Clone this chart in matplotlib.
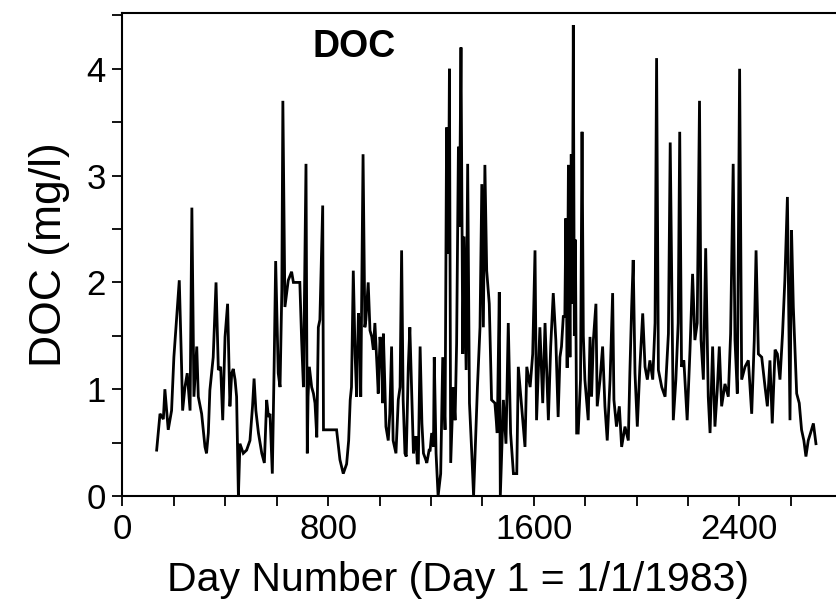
import matplotlib.pyplot as plt
from matplotlib.ticker import MultipleLocator

# day number and DOC (mg/l)
days = [133, 146, 159, 165, 178, 191, 200, 221, 230, 234, 243, 252, 263, 270, 278,
        289, 295, 308, 321, 327, 334, 340, 353, 364, 373, 382, 390, 399, 409, 418,
        425, 431, 438, 444, 451, 457, 470, 483, 496, 506, 512, 519, 529, 542, 552,
        561, 568, 574, 583, 590, 596, 606, 613, 620, 624, 632, 645, 658, 665, 690,
        697, 704, 714, 719, 722, 727, 736, 743, 749, 756, 762, 768, 779, 782, 833,
        846, 859, 872, 880, 886, 891, 898, 905, 911, 918, 924, 927, 936, 943, 947,
        956, 963, 970, 976, 982, 991, 995, 1002, 1008, 1012, 1015, 1021, 1025, 1034, 1040,
        1047, 1053, 1064, 1073, 1080, 1086, 1092, 1099, 1104, 1112, 1118, 1125, 1132, 1138, 1142,
        1147, 1151, 1158, 1165, 1171, 1180, 1184, 1193, 1197, 1203, 1210, 1213, 1220, 1228, 1238,
        1246, 1255, 1261, 1268, 1272, 1277, 1287, 1294, 1300, 1307, 1311, 1317, 1324, 1329, 1337,
        1343, 1350, 1359, 1366, 1381, 1391, 1398, 1404, 1410, 1417, 1427, 1436, 1449, 1458, 1466,
        1470, 1482, 1492, 1501, 1510, 1521, 1534, 1540, 1553, 1566, 1573, 1586, 1596, 1605, 1611,
        1624, 1635, 1644, 1657, 1666, 1676, 1686, 1695, 1702, 1708, 1715, 1721, 1725, 1730, 1735,
        1741, 1746, 1750, 1754, 1758, 1762, 1767, 1773, 1782, 1788, 1793, 1799, 1812, 1819, 1825,
        1832, 1842, 1847, 1858, 1868, 1877, 1886, 1897, 1907, 1912, 1922, 1933, 1942, 1955, 1968,
        1974, 1981, 1987, 1994, 2003, 2013, 2024, 2033, 2042, 2052, 2063, 2072, 2078, 2085, 2098,
        2111, 2124, 2131, 2143, 2153, 2162, 2168, 2175, 2184, 2197, 2208, 2218, 2227, 2236, 2245,
        2251, 2260, 2269, 2279, 2286, 2296, 2305, 2314, 2322, 2331, 2344, 2357, 2366, 2376, 2383,
        2392, 2401, 2409, 2422, 2435, 2448, 2458, 2465, 2474, 2487, 2500, 2509, 2519, 2528, 2539,
        2548, 2558, 2568, 2577, 2587, 2597, 2603, 2610, 2623, 2633, 2642, 2651, 2659, 2668, 2677,
        2688, 2698]

doc = [0.43, 0.77, 0.72, 1.00, 0.62, 0.80, 1.30, 2.02, 1.21, 0.80, 1.02, 1.15, 0.80, 2.70, 0.93,
       1.40, 0.93, 0.77, 0.46, 0.40, 0.59, 0.99, 1.30, 2.00, 1.18, 1.21, 0.71, 1.49, 1.80, 0.84,
       1.15, 1.19, 1.09, 0.93, 0.00, 0.49, 0.40, 0.43, 0.52, 0.84, 1.10, 0.80, 0.59, 0.40, 0.31,
       0.90, 0.74, 0.77, 0.21, 1.21, 2.20, 1.15, 1.02, 1.93, 3.70, 1.77, 2.02, 2.10, 2.00, 2.00,
       1.46, 1.02, 3.11, 0.40, 0.93, 1.21, 1.02, 0.96, 0.87, 0.55, 1.58, 1.65, 2.72, 0.62, 0.62,
       0.34, 0.21, 0.30, 0.52, 0.90, 1.02, 2.11, 1.33, 0.93, 1.71, 1.52, 0.93, 3.20, 1.58, 1.65,
       2.00, 1.55, 1.49, 1.37, 1.62, 1.18, 0.96, 1.49, 1.33, 0.87, 1.52, 1.02, 0.65, 0.52, 0.77,
       1.40, 0.52, 0.40, 0.90, 1.02, 2.30, 0.90, 0.40, 0.37, 1.21, 1.58, 0.99, 0.40, 0.52, 0.56,
       0.31, 0.31, 1.40, 0.68, 0.40, 0.34, 0.31, 0.43, 0.43, 0.59, 0.46, 1.30, 0.40, 0.00, 0.21,
       1.30, 0.62, 3.45, 2.27, 4.00, 0.31, 1.02, 0.71, 1.43, 3.27, 2.52, 4.20, 1.33, 2.43, 1.18,
       3.11, 0.87, 0.40, 0.00, 1.02, 1.58, 2.92, 1.58, 3.10, 2.11, 1.80, 0.90, 0.87, 0.59, 1.91,
       0.00, 0.90, 0.49, 1.62, 0.59, 0.21, 0.21, 1.21, 0.84, 0.46, 1.21, 1.02, 1.33, 2.30, 0.71,
       1.58, 0.87, 1.62, 0.71, 1.40, 1.90, 1.46, 0.74, 1.30, 1.40, 1.68, 1.68, 2.60, 1.20, 3.10,
       1.30, 3.20, 1.80, 4.41, 1.50, 2.40, 0.59, 0.59, 1.09, 3.41, 1.50, 1.09, 0.71, 1.49, 0.93,
       1.46, 1.80, 0.84, 1.09, 1.40, 0.84, 0.52, 1.09, 1.90, 0.90, 0.65, 0.84, 0.46, 0.65, 0.52,
       1.15, 1.77, 2.21, 1.15, 0.65, 1.21, 1.71, 1.21, 1.09, 1.27, 1.09, 1.62, 4.10, 1.18, 1.02,
       0.93, 1.52, 3.31, 0.71, 1.09, 1.62, 3.41, 1.21, 1.27, 0.71, 1.37, 2.08, 1.46, 1.62, 3.70,
       1.46, 1.09, 2.32, 0.93, 0.59, 1.40, 0.65, 0.99, 1.40, 0.84, 1.05, 0.93, 1.52, 3.11, 1.46,
       0.96, 4.00, 1.09, 1.21, 1.27, 0.77, 1.46, 2.30, 1.33, 1.30, 1.02, 0.84, 1.27, 0.68, 1.37,
       1.33, 1.09, 1.52, 2.02, 2.80, 0.71, 2.49, 1.77, 0.96, 0.87, 0.62, 0.52, 0.37, 0.52, 0.59,
       0.68, 0.49]

plt.rcParams['font.family'] = ['Liberation Sans', 'DejaVu Sans']

fig = plt.figure(figsize=(8.36, 6.02), dpi=100)
ax = fig.add_axes([0.1465, 0.176, 0.8535, 0.802])

ax.plot(days, doc, color='black', lw=2.0, solid_joinstyle='miter')

ax.set_xlim(0, 2776)
ax.set_ylim(0, 4.52)
ax.xaxis.set_major_locator(MultipleLocator(800))
ax.xaxis.set_minor_locator(MultipleLocator(200))
ax.yaxis.set_major_locator(MultipleLocator(1))
ax.yaxis.set_minor_locator(MultipleLocator(0.5))
ax.tick_params(which='both', direction='out', length=7, width=1.3,
               labelsize=25, pad=5)

ax.spines['right'].set_visible(False)
for s in ['left', 'bottom', 'top']:
    ax.spines[s].set_linewidth(1.5)

ax.set_xlabel('Day Number (Day 1 = 1/1/1983)', fontsize=29.5)
ax.xaxis.set_label_coords(0.47, -0.135)
ax.set_ylabel('DOC (mg/l)', fontsize=32, labelpad=12)

# panel label inside the plot
ax.text(900, 4.2, 'DOC', fontsize=27, fontweight='bold', ha='center', va='center')

fig.savefig('out.png', dpi=100)
